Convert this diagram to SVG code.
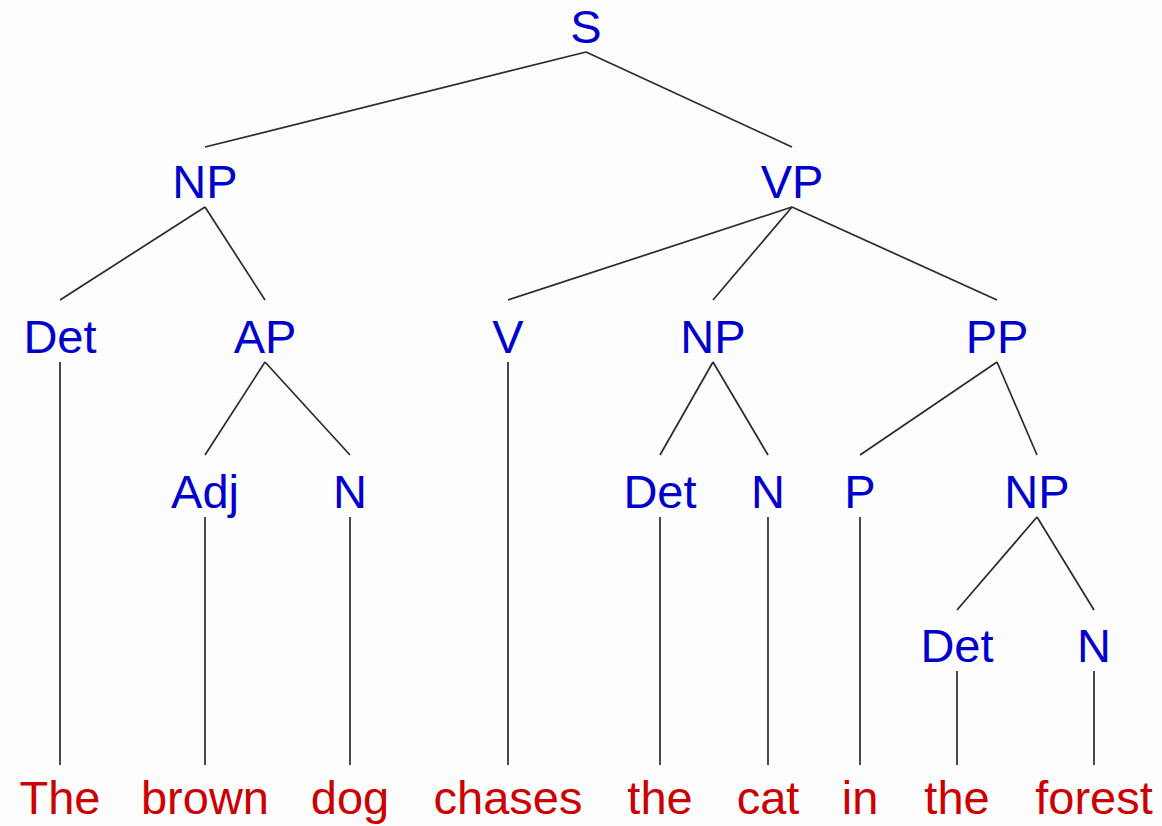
<svg xmlns="http://www.w3.org/2000/svg" width="1162" height="826" viewBox="0 0 1162 826">
<style>
.cat{font-family:"Liberation Sans",Arial,sans-serif;font-size:47px;fill:#0000cc;text-anchor:middle}
.word{font-family:"Liberation Sans",Arial,sans-serif;font-size:47px;fill:#cc0000;text-anchor:middle}
.e{stroke:#2a2a2a;stroke-width:1.7;fill:none}
</style>
<rect width="1162" height="826" fill="#fdfdfd"/>
<g id="connectors">
<line class="e" x1="586" y1="52" x2="205" y2="147"/>
<line class="e" x1="586" y1="52" x2="792" y2="147"/>
<line class="e" x1="205" y1="207" x2="60" y2="300"/>
<line class="e" x1="205" y1="207" x2="265" y2="300"/>
<line class="e" x1="792" y1="207" x2="508" y2="300"/>
<line class="e" x1="792" y1="207" x2="713" y2="300"/>
<line class="e" x1="792" y1="207" x2="997" y2="300"/>
<line class="e" x1="265" y1="362" x2="205" y2="455"/>
<line class="e" x1="265" y1="362" x2="350" y2="455"/>
<line class="e" x1="713" y1="362" x2="660" y2="455"/>
<line class="e" x1="713" y1="362" x2="768" y2="455"/>
<line class="e" x1="997" y1="362" x2="860" y2="455"/>
<line class="e" x1="997" y1="362" x2="1037" y2="455"/>
<line class="e" x1="1037" y1="517" x2="957" y2="610"/>
<line class="e" x1="1037" y1="517" x2="1094" y2="610"/>
<line class="e" x1="60" y1="362" x2="60" y2="765"/>
<line class="e" x1="205" y1="517" x2="205" y2="765"/>
<line class="e" x1="350" y1="517" x2="350" y2="765"/>
<line class="e" x1="508" y1="362" x2="508" y2="765"/>
<line class="e" x1="660" y1="517" x2="660" y2="765"/>
<line class="e" x1="768" y1="517" x2="768" y2="765"/>
<line class="e" x1="860" y1="517" x2="860" y2="765"/>
<line class="e" x1="957" y1="671" x2="957" y2="765"/>
<line class="e" x1="1094" y1="671" x2="1094" y2="765"/>
</g>
<g id="S"><text class="cat" x="586" y="43">S</text></g>
<g id="NP1"><text class="cat" x="205" y="198">NP</text></g>
<g id="VP"><text class="cat" x="792" y="198">VP</text></g>
<g id="Det1"><text class="cat" x="60" y="353">Det</text></g>
<g id="AP"><text class="cat" x="265" y="353">AP</text></g>
<g id="V"><text class="cat" x="508" y="353">V</text></g>
<g id="NP2"><text class="cat" x="713" y="353">NP</text></g>
<g id="PP"><text class="cat" x="997" y="353">PP</text></g>
<g id="Adj"><text class="cat" x="205" y="508">Adj</text></g>
<g id="N1"><text class="cat" x="350" y="508">N</text></g>
<g id="Det2"><text class="cat" x="660" y="508">Det</text></g>
<g id="N2"><text class="cat" x="768" y="508">N</text></g>
<g id="P"><text class="cat" x="860" y="508">P</text></g>
<g id="NP3"><text class="cat" x="1037" y="508">NP</text></g>
<g id="Det3"><text class="cat" x="957" y="662">Det</text></g>
<g id="N3"><text class="cat" x="1094" y="662">N</text></g>
<g id="w1"><text class="word" x="60" y="814">The</text></g>
<g id="w2"><text class="word" x="205" y="814">brown</text></g>
<g id="w3"><text class="word" x="350" y="814">dog</text></g>
<g id="w4"><text class="word" x="508" y="814">chases</text></g>
<g id="w5"><text class="word" x="660" y="814">the</text></g>
<g id="w6"><text class="word" x="768" y="814">cat</text></g>
<g id="w7"><text class="word" x="860" y="814">in</text></g>
<g id="w8"><text class="word" x="957" y="814">the</text></g>
<g id="w9"><text class="word" x="1094" y="814">forest</text></g>
</svg>
